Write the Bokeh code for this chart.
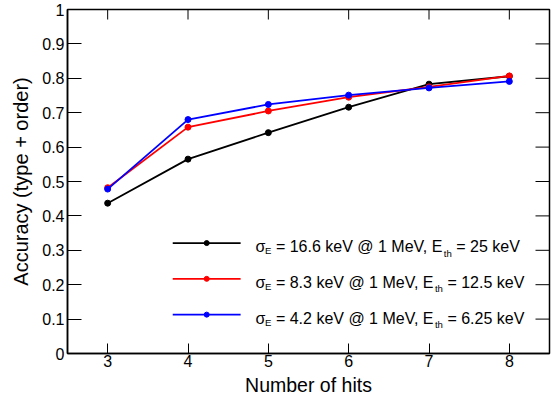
import math
from bokeh.plotting import figure
from bokeh.models import Range1d, FixedTicker, Label, CustomJSTickFormatter
from bokeh.embed import file_html
from bokeh.resources import INLINE

# ---- data ----
n_hits = [3, 4, 5, 6, 7, 8]
acc_sigma_16p6 = [0.437, 0.565, 0.642, 0.716, 0.783, 0.806]
acc_sigma_8p3 = [0.482, 0.658, 0.705, 0.745, 0.775, 0.807]
acc_sigma_4p2 = [0.478, 0.680, 0.724, 0.751, 0.772, 0.791]
x_ticks = [3, 4, 5, 6, 7, 8]
y_ticks = [0.0, 0.1, 0.2, 0.3, 0.4, 0.5, 0.6, 0.7, 0.8, 0.9, 1.0]
sigma_labels = ["16.6", "8.3", "4.2"]
threshold_labels = ["25", "12.5", "6.25"]
x_title = "Number of hits"
y_title = "Accuracy (type + order)"
X_MIN, X_MAX = 2.5, 8.5
Y_MIN, Y_MAX = 0.0, 1.0

series = [
    (acc_sigma_16p6, "#000000", sigma_labels[0], threshold_labels[0]),
    (acc_sigma_8p3, "#ff0000", sigma_labels[1], threshold_labels[1]),
    (acc_sigma_4p2, "#0000ff", sigma_labels[2], threshold_labels[2]),
]

FONT = "Liberation Sans"
MAIN_PX = 16
SUB_PX = 9.6

p = figure(width=554, height=398, output_backend="svg", toolbar_location=None,
           x_range=Range1d(X_MIN, X_MAX), y_range=Range1d(Y_MIN, Y_MAX),
           min_border_left=67, min_border_right=5, min_border_top=9, min_border_bottom=44)
p.background_fill_color = "white"
p.border_fill_color = "white"
p.grid.visible = False
p.outline_line_color = "black"
p.outline_line_width = 1.5

fmt = CustomJSTickFormatter(code="return String(Number(tick.toFixed(2)));")

def style_axis(ax, tick_len):
    ax.axis_line_color = "black"
    ax.axis_line_width = 1.5
    ax.major_tick_in = tick_len
    ax.major_tick_out = 0
    ax.major_tick_line_color = "black"
    ax.major_tick_line_width = 1
    ax.minor_tick_line_color = None
    ax.major_label_text_font = FONT
    ax.major_label_text_font_size = f"{MAIN_PX}px"
    ax.major_label_text_color = "black"
    ax.axis_label_text_font = FONT
    ax.axis_label_text_font_style = "normal"
    ax.axis_label_text_color = "black"

xa = p.xaxis[0]
xa.ticker = FixedTicker(ticks=x_ticks)
xa.formatter = fmt
style_axis(xa, 10)
xa.major_label_standoff = 1
xa.axis_label = x_title
xa.axis_label_text_font_size = "19.5px"
xa.axis_label_standoff = 4

ya = p.yaxis[0]
ya.ticker = FixedTicker(ticks=y_ticks)
ya.formatter = fmt
style_axis(ya, 14)
ya.major_label_standoff = 3
ya.axis_label = y_title
ya.axis_label_text_font_size = "20px"
ya.axis_label_standoff = 7

# mirrored ticks on the right and top frame edges (no labels)
p.ray(x=[X_MAX] * len(y_ticks), y=y_ticks, length=14, length_units="screen",
      angle=math.pi, line_color="black", line_width=1)
p.ray(x=x_ticks, y=[Y_MAX] * len(x_ticks), length=10, length_units="screen",
      angle=-math.pi / 2, line_color="black", line_width=1)

for ys, color, _, _ in series:
    p.line(n_hits, ys, line_color=color, line_width=1.8)
    p.scatter(n_hits, ys, marker="circle", size=6, fill_color=color, line_color=color)

# ---- hand-built legend (ROOT style with subscripts) ----
ARIAL_W = {' ': 278, '=': 584, '.': 278, 'k': 500, 'e': 556, 'V': 667, '@': 1015,
           'M': 833, ',': 278, 'E': 667, 't': 278, 'h': 556, 'σ': 600}

def text_w(s, size):
    return sum(ARIAL_W.get(c, 556) for c in s) * size / 1000.0

LEG_LINE_X0, LEG_LINE_X1, LEG_MARK_X, LEG_TEXT_X = 3.81, 4.655, 4.233, 4.84
LEG_ROWS_Y = [0.321, 0.217, 0.113]

for (ys, color, sig, thr), row_y in zip(series, LEG_ROWS_Y):
    p.line([LEG_LINE_X0, LEG_LINE_X1], [row_y, row_y], line_color=color, line_width=1.8)
    p.scatter([LEG_MARK_X], [row_y], marker="circle", size=5, fill_color=color, line_color=color)
    pieces = [
        ("σ", MAIN_PX, -3.4),
        ("E", SUB_PX, -7.4),
        (f" = {sig} keV @ 1 MeV, E", MAIN_PX, -3.4),
        ("th", SUB_PX, -10.0),
        (f" = {thr} keV", MAIN_PX, -3.4),
    ]
    off = 0.0
    for txt, size, dy in pieces:
        # leading spaces collapse in SVG text: turn them into an offset
        stripped = txt.lstrip(" ")
        off += text_w(txt[: len(txt) - len(stripped)], size)
        p.add_layout(Label(x=LEG_TEXT_X, y=row_y, x_offset=off, y_offset=dy, text=stripped,
                           text_font=FONT, text_font_size=f"{size}px", text_color="black",
                           text_baseline="alphabetic", text_align="left"))
        off += text_w(stripped, size)

open("out.html", "w").write(file_html(p, INLINE))
